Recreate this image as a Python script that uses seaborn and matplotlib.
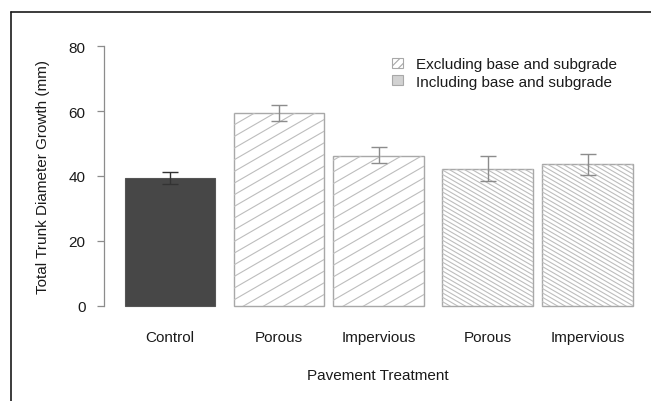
import numpy as np
import pandas as pd
import matplotlib
matplotlib.use("Agg")
import matplotlib.pyplot as plt
import matplotlib.patches as mpatches
from matplotlib.lines import Line2D
import seaborn as sns

# values (mm)
treatments = ["Control", "Porous", "Impervious", "Porous", "Impervious"]
groups = ["Control", "Excluding", "Excluding", "Including", "Including"]
growth = [39.3, 59.4, 46.3, 42.25, 43.6]
err_low = [37.4, 57.0, 43.9, 38.4, 40.3]
err_high = [41.1, 61.8, 48.8, 46.3, 46.7]

legend_labels = ["Excluding base and subgrade", "Including base and subgrade"]

# bar spacing like R's barplot: 0.2 between groups, 0.1 inside a group
gaps = [0, 0.2, 0.1, 0.2, 0.1]
pos = np.cumsum([0] + [1 + g for g in gaps[1:]])

df = pd.DataFrame({"pos": pos, "growth": growth, "group": groups,
                   "treatment": treatments})

sns.set_style("white")
plt.rcParams["font.family"] = ["Liberation Sans", "DejaVu Sans"]
plt.rcParams["font.size"] = 11
plt.rcParams["hatch.linewidth"] = 0.8

W, H = 651, 402
fig = plt.figure(figsize=(W / 100, H / 100), dpi=100)
ax = fig.add_axes([103.5 / W, (H - 317.4) / H, (W - 103.5) / W, (317.4 - 36.6) / H])

sns.barplot(data=df, x="pos", y="growth", native_scale=True, width=1 / 1.1,
            errorbar=None, color="white", ax=ax)

ax.set_xlim(-0.732, 5.297)
ax.set_ylim(-3.2, 83.2)

edge_gray = "#a8a8a8"
hatch_gray = "#bdbdbd"
bars = sorted(ax.patches, key=lambda p: p.get_x())


def draw_hatch(patch, angle, spacing):
    # hatch lines at an arbitrary angle, spaced in pixels, clipped to the bar
    x0, y0 = patch.get_x(), patch.get_y()
    x1, y1 = x0 + patch.get_width(), y0 + patch.get_height()
    corners = ax.transData.transform([(x0, y0), (x1, y0), (x0, y1), (x1, y1)])
    th = np.deg2rad(angle)
    d = np.array([np.cos(th), np.sin(th)])
    n = np.array([-np.sin(th), np.cos(th)])
    proj = corners @ n
    big = 2000
    inv = ax.transData.inverted()
    for c in np.arange(proj.min(), proj.max() + spacing, spacing):
        p = np.array([c * n - big * d, c * n + big * d])
        pd_ = inv.transform(p)
        ln = Line2D(pd_[:, 0], pd_[:, 1], color=hatch_gray, lw=0.8, zorder=2.5)
        ax.add_line(ln)
        ln.set_clip_path(patch)


for bar, grp in zip(bars, groups):
    if grp == "Control":
        bar.set_facecolor("#474747")
        bar.set_edgecolor("#555555")
        bar.set_linewidth(0.8)
    else:
        bar.set_facecolor("white")
        bar.set_edgecolor(edge_gray)
        bar.set_linewidth(1.0)
        bar.set_zorder(2)
        if grp == "Excluding":
            draw_hatch(bar, 30, 10.1)
        else:
            draw_hatch(bar, -30, 3.8)

# error bars
for i in range(len(pos)):
    col = "#333333" if groups[i] == "Control" else "#8c8c8c"
    ax.errorbar(pos[i], growth[i],
                yerr=[[growth[i] - err_low[i]], [err_high[i] - growth[i]]],
                fmt="none", ecolor=col, elinewidth=1.0, capsize=6.1,
                capthick=1.0, zorder=4)

for s in ["top", "right", "bottom"]:
    ax.spines[s].set_visible(False)
ax.spines["left"].set_bounds(0, 80)
ax.spines["left"].set_color("#8c8c8c")
ax.spines["left"].set_linewidth(0.9)

ax.set_yticks([0, 20, 40, 60, 80])
ax.tick_params(axis="y", length=5, width=0.9, color="#8c8c8c", pad=8,
               labelsize=11, labelcolor="#1a1a1a", left=True)
ax.set_xticks(pos)
ax.set_xticklabels(treatments)
ax.tick_params(axis="x", length=0, pad=10, labelsize=11, labelcolor="#1a1a1a")

ax.set_xlabel("Pavement Treatment", fontsize=11, color="#1a1a1a")
ax.xaxis.set_label_coords((378 - 103.5) / (W - 103.5), -0.185)
ax.set_ylabel("Total Trunk Diameter Growth (mm)", fontsize=11, color="#1a1a1a",
              labelpad=13)

# legend
h1 = mpatches.Patch(facecolor="white", edgecolor=edge_gray, hatch="////", lw=0.8)
h2 = mpatches.Patch(facecolor="#d2d2d2", edgecolor=edge_gray, lw=0.8)
fig.legend([h1, h2], legend_labels, loc="upper left",
           bbox_to_anchor=(392 / W, 1 - 58 / H), frameon=False, borderpad=0,
           borderaxespad=0, handlelength=0.72, handleheight=0.62,
           handletextpad=0.85, labelspacing=0.25, fontsize=11,
           labelcolor="#1a1a1a")

# outer frame (top and left edges visible)
fx = 11 / W
fy = 1 - 13 / H
fig.add_artist(Line2D([fx, 1], [fy, fy], transform=fig.transFigure,
                      color="#1a1a1a", lw=1.2))
fig.add_artist(Line2D([fx, fx], [0, fy], transform=fig.transFigure,
                      color="#1a1a1a", lw=1.2))

fig.savefig("out.png", dpi=100)
